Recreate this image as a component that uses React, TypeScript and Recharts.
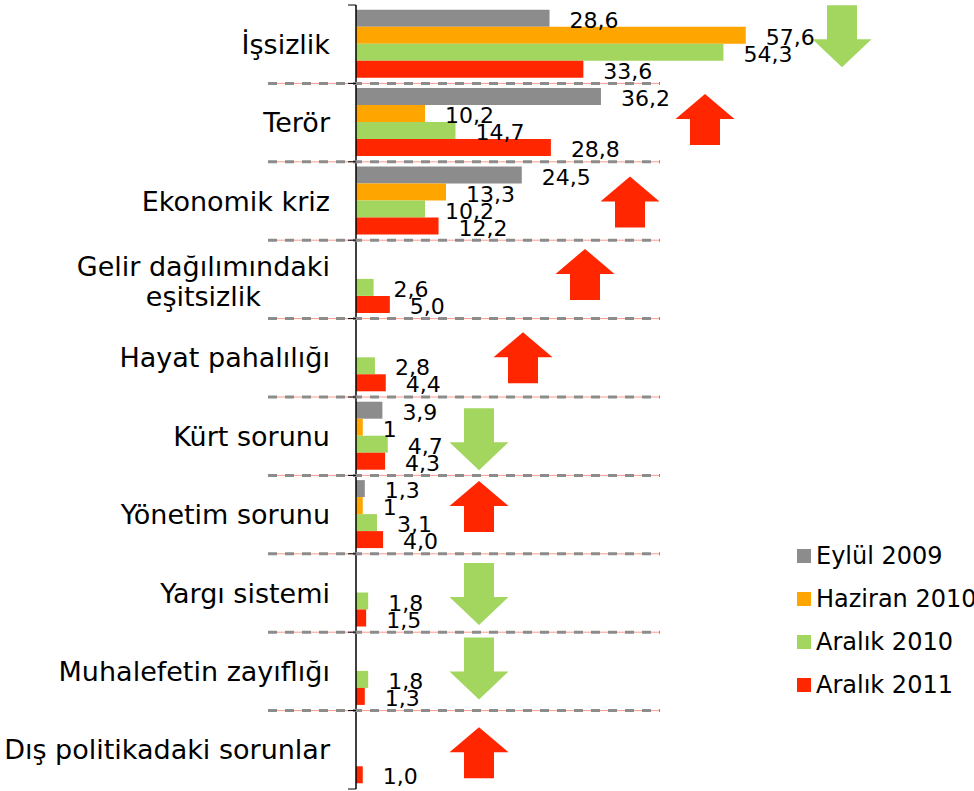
import React from "react";
import { BarChart, Bar, XAxis, YAxis, Legend, LabelList } from "recharts";

// survey: most important problems of Turkey (%)
const CATEGORIES = [
  "İşsizlik",
  "Terör",
  "Ekonomik kriz",
  "Gelir dağılımındaki\neşitsizlik",
  "Hayat pahalılığı",
  "Kürt sorunu",
  "Yönetim sorunu",
  "Yargı sistemi",
  "Muhalefetin zayıflığı",
  "Dış politikadaki sorunlar",
];
const EYLUL_2009 = [28.6, 36.2, 24.5, null, null, 3.9, 1.3, null, null, null];
const HAZIRAN_2010 = [57.6, 10.2, 13.3, null, null, 1, 1, null, null, null];
const ARALIK_2010 = [54.3, 14.7, 10.2, 2.6, 2.8, 4.7, 3.1, 1.8, 1.8, null];
const ARALIK_2011 = [33.6, 28.8, 12.2, 5.0, 4.4, 4.3, 4.0, 1.5, 1.3, 1.0];
// change 2010 -> 2011
const TREND = ["down", "up", "up", "up", "up", "down", "up", "down", "down", "up"];

const SERIES = [
  { key: "eylul2009", name: "Eylül 2009", values: EYLUL_2009, fixed: true },
  { key: "haziran2010", name: "Haziran 2010", values: HAZIRAN_2010, fixed: false },
  { key: "aralik2010", name: "Aralık 2010", values: ARALIK_2010, fixed: true },
  { key: "aralik2011", name: "Aralık 2011", values: ARALIK_2011, fixed: true },
];

const COLORS: Record<string, string> = {
  eylul2009: "#8c8c8c",
  haziran2010: "#ffa500",
  aralik2010: "#a3d65f",
  aralik2011: "#ff2600",
};

const ARROW_COLORS = { up: "#ff2600", down: "#a3d65f" };

// layout
const W = 974;
const H = 791;
const TOP = 5;
const BOTTOM = 2;
const AXIS_X = 356;
const PLOT_RIGHT = 762;
const BAND = (H - TOP - BOTTOM) / CATEGORIES.length;
const LABEL_RIGHT = 330;
const FONT = "Verdana, 'DejaVu Sans', sans-serif";
const CAT_SIZE = 27;
const VAL_SIZE = 22;
const ARROW_X = [842, 705, 630, 585, 523, 479, 479, 479, 479, 479];
const ARROW_DY = [-8, -3, 1, -5, 0, 3, -8, 1, -3, 3];

const data = CATEGORIES.map((name, i) => {
  const row: any = { name };
  SERIES.forEach((s) => (row[s.key] = s.values[i]));
  return row;
});

let ctx: CanvasRenderingContext2D | null = null;
function textWidth(text: string, font: string) {
  if (!ctx) ctx = document.createElement("canvas").getContext("2d");
  if (!ctx) return text.length * 12;
  ctx.font = font;
  return ctx.measureText(text).width;
}

function arrowPath(cx: number, cy: number, dir: string) {
  if (dir === "up") {
    const h = 51, head = 25, hw = 29.5, sw = 15;
    const t = cy - h / 2, b = cy + h / 2;
    return `M${cx},${t} L${cx + hw},${t + head} L${cx + sw},${t + head} L${cx + sw},${b} L${cx - sw},${b} L${cx - sw},${t + head} L${cx - hw},${t + head} Z`;
  }
  const h = 62, head = 28, hw = 29.5, sw = 15;
  const t = cy - h / 2, b = cy + h / 2;
  return `M${cx - sw},${t} L${cx + sw},${t} L${cx + sw},${b - head} L${cx + hw},${b - head} L${cx},${b} L${cx - hw},${b - head} L${cx - sw},${b - head} Z`;
}

const CategoryTick = (props: any) => {
  const { y, payload } = props;
  const i: number = payload.index ?? props.index ?? 0;
  const lines = String(payload.value).split("\n");
  const font = `${CAT_SIZE}px ${FONT}`;
  const top = y - BAND / 2;
  const lineH = 30;
  let label;
  if (lines.length === 1) {
    label = (
      <text x={LABEL_RIGHT} y={y} textAnchor="end" dominantBaseline="central" fontSize={CAT_SIZE} fontFamily={FONT} fill="#000">
        {lines[0]}
      </text>
    );
  } else {
    const w = Math.max(...lines.map((l) => textWidth(l, font)));
    const cx = LABEL_RIGHT - w / 2;
    label = (
      <text textAnchor="middle" fontSize={CAT_SIZE} fontFamily={FONT} fill="#000">
        {lines.map((l, k) => (
          <tspan key={k} x={cx} y={y + 2 + (k - (lines.length - 1) / 2) * lineH} dominantBaseline="central">
            {l}
          </tspan>
        ))}
      </text>
    );
  }
  const dir = TREND[i];
  return (
    <g>
      {i > 0 && (
        <g>
          <line x1={268} x2={660} y1={top} y2={top} stroke="#ff9a8a" strokeWidth={1} />
          <line x1={268} x2={660} y1={top} y2={top} stroke="#8c8c8c" strokeWidth={3} strokeDasharray="9 8" />
        </g>
      )}
      <line x1={AXIS_X - 8} x2={AXIS_X} y1={top} y2={top} stroke="#000" />
      {i === CATEGORIES.length - 1 && (
        <line x1={AXIS_X - 8} x2={AXIS_X} y1={top + BAND} y2={top + BAND} stroke="#000" />
      )}
      {label}
      <path d={arrowPath(ARROW_X[i], y + ARROW_DY[i], dir)} fill={ARROW_COLORS[dir as "up" | "down"]} />
    </g>
  );
};

const valueLabel = (fixed: boolean) => (props: any) => {
  const { x, y, width, height, value } = props;
  if (value === null || value === undefined) return null;
  const txt = (fixed ? Number(value).toFixed(1) : String(value)).replace(".", ",");
  return (
    <text x={x + width + 20} y={y + height / 2 + 2} dominantBaseline="central" fontSize={VAL_SIZE} fontFamily={FONT} fill="#000">
      {txt}
    </text>
  );
};

const LegendContent = () => (
  <div style={{ fontFamily: FONT, fontSize: 24, color: "#000" }}>
    {SERIES.map((s) => (
      <div key={s.key} style={{ display: "flex", alignItems: "center", height: 43 }}>
        <span style={{ width: 14, height: 14, background: COLORS[s.key], marginRight: 5, display: "inline-block", flexShrink: 0 }} />
        <span style={{ whiteSpace: "nowrap" }}>{s.name}</span>
      </div>
    ))}
  </div>
);

export default function App() {
  return (
    <div style={{ position: "absolute", left: 0, top: 0, width: W, height: H, background: "#fff", overflow: "hidden" }}>
      <BarChart
        width={W}
        height={H}
        data={data}
        layout="vertical"
        margin={{ top: TOP, right: W - PLOT_RIGHT, bottom: BOTTOM, left: 0 }}
        barCategoryGap="6%"
        barGap={0}
      >
        <XAxis type="number" domain={[0, 60]} hide />
        <YAxis
          type="category"
          dataKey="name"
          width={AXIS_X}
          interval={0}
          tickLine={false}
          axisLine={{ stroke: "#000", strokeWidth: 1.5 }}
          tick={<CategoryTick />}
        />
        <Legend
          layout="vertical"
          align="center"
          verticalAlign="middle"
          content={<LegendContent />}
          wrapperStyle={{ left: 797, top: 534, width: 200 }}
        />
        {SERIES.map((s) => (
          <Bar key={s.key} dataKey={s.key} name={s.name} fill={COLORS[s.key]} isAnimationActive={false}>
            <LabelList dataKey={s.key} content={valueLabel(s.fixed)} />
          </Bar>
        ))}
      </BarChart>
    </div>
  );
}
